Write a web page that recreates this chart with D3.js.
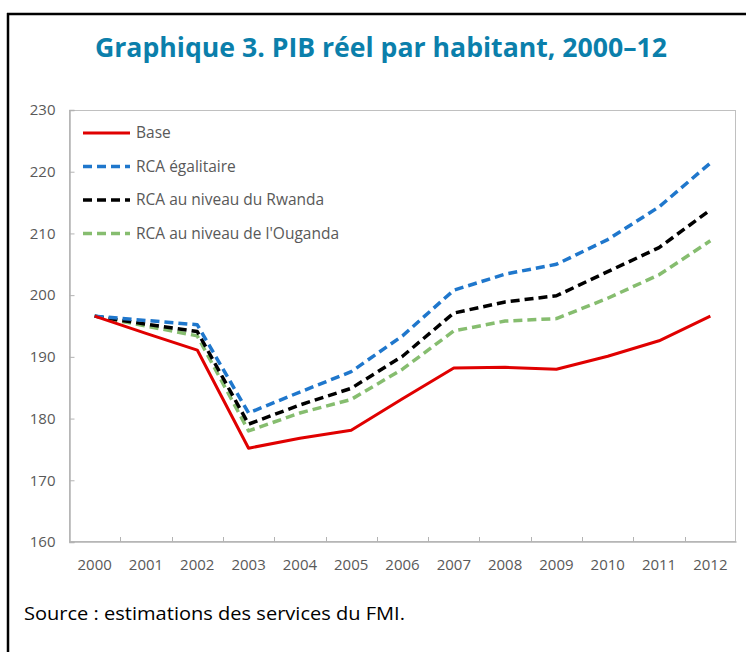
<!DOCTYPE html>
<html><head><meta charset="utf-8">
<script src="https://cdn.jsdelivr.net/npm/d3@7"></script>
<style>body{margin:0;background:#fff}svg{display:block}</style>
</head><body>
<svg id="c" width="746" height="652"></svg>
<script>
const years = ["2000","2001","2002","2003","2004","2005","2006","2007","2008","2009","2010","2011","2012"];
const yTicks = [160,170,180,190,200,210,220,230];
const seriesNames = ["Base","RCA égalitaire","RCA au niveau du Rwanda","RCA au niveau de l'Ouganda"];
const base     = [196.6,193.8,191.1,175.2,176.8,178.1,183.2,188.2,188.3,188.0,190.1,192.6,196.6];
const egal     = [196.6,195.9,195.2,180.9,184.3,187.6,193.4,200.8,203.4,205.0,209.0,214.3,221.4];
const rwanda   = [196.6,195.3,194.1,179.1,182.2,184.9,190.1,197.1,198.9,199.9,203.8,207.7,213.8];
const ouganda  = [196.6,195.0,193.4,178.0,180.9,183.1,188.0,194.2,195.8,196.2,199.5,203.3,208.8];
const seriesValues = [base, egal, rwanda, ouganda];
const colors = ["#e00000","#1f77cc","#000000","#86bd6f"];
const dashes = [null,"9,5","9,5","9,5"];

const svg = d3.select("#c");
const L=69, R=736, T=110, B=542;
const x = d3.scaleBand().domain(years).range([L,R]);
const y = d3.scaleLinear().domain([160,230]).range([B,T]);

// frame
svg.append("line").attr("x1",7).attr("x2",746).attr("y1",14).attr("y2",14).attr("stroke","#000").attr("stroke-width",2.5);
svg.append("line").attr("x1",8).attr("x2",8).attr("y1",13).attr("y2",652).attr("stroke","#000").attr("stroke-width",2.5);

// title
svg.append("text").attr("x",381).attr("y",57).attr("text-anchor","middle")
  .attr("font-family","Open Sans, sans-serif").attr("font-weight","bold").attr("font-size",26)
  .attr("fill","#0b7fab").attr("textLength",572).attr("lengthAdjust","spacingAndGlyphs")
  .text("Graphique 3. PIB réel par habitant, 2000–12");

// plot border
svg.append("rect").attr("x",L+0.5).attr("y",T+0.5).attr("width",R-L-1).attr("height",B-T-1)
  .attr("fill","none").attr("stroke","#c0c0c0").attr("stroke-width",1);

// axes
const yAxis = d3.axisLeft(y).tickValues(yTicks).tickSize(-5).tickPadding(14);
const gy = svg.append("g").attr("transform",`translate(${L+0.5},0)`).call(yAxis);
const xAxis = d3.axisBottom(x).tickSize(0).tickPadding(18);
const gx = svg.append("g").attr("transform",`translate(0,${B-0.5})`).call(xAxis);
[gy,gx].forEach(g=>{
  g.select(".domain").attr("stroke","#b3b3b3").attr("stroke-width",1.5);
  g.selectAll(".tick line").attr("stroke","#b3b3b3");
  g.selectAll("text").attr("font-family","Open Sans, sans-serif").attr("font-size",15).attr("fill","#595959");
});
// x ticks between categories (inward)
svg.append("g").selectAll("line").data(years.slice(1)).join("line")
  .attr("x1",d=>Math.round(x(d))+0.5).attr("x2",d=>Math.round(x(d))+0.5)
  .attr("y1",B).attr("y2",B-5).attr("stroke","#b3b3b3");

// lines
const line = d3.line().x((d,i)=>x(years[i])+x.bandwidth()/2).y(d=>y(d));
[3,2,1,0].forEach(k=>{
  svg.append("path").datum(seriesValues[k]).attr("d",line)
    .attr("fill","none").attr("stroke",colors[k]).attr("stroke-width",k===0?3:3.5)
    .attr("stroke-dasharray",dashes[k]).attr("stroke-linejoin","round");
});

// legend
const lg = svg.append("g");
seriesNames.forEach((n,k)=>{
  const yy = 133 + k*33.5;
  lg.append("line").attr("x1",83).attr("x2",130).attr("y1",yy).attr("y2",yy)
    .attr("stroke",colors[k]).attr("stroke-width",k===0?3:3.5).attr("stroke-dasharray",dashes[k]);
  lg.append("text").attr("x",136).attr("y",yy).attr("dy","0.35em")
    .attr("font-family","Open Sans, sans-serif").attr("font-size",15.5).attr("fill","#595959").text(n);
});

// source
svg.append("text").attr("x",24).attr("y",620)
  .attr("font-family","Open Sans, sans-serif").attr("font-size",19).attr("fill","#000")
  .attr("textLength",381).attr("lengthAdjust","spacingAndGlyphs")
  .text("Source : estimations des services du FMI.");
</script>
</body></html>
